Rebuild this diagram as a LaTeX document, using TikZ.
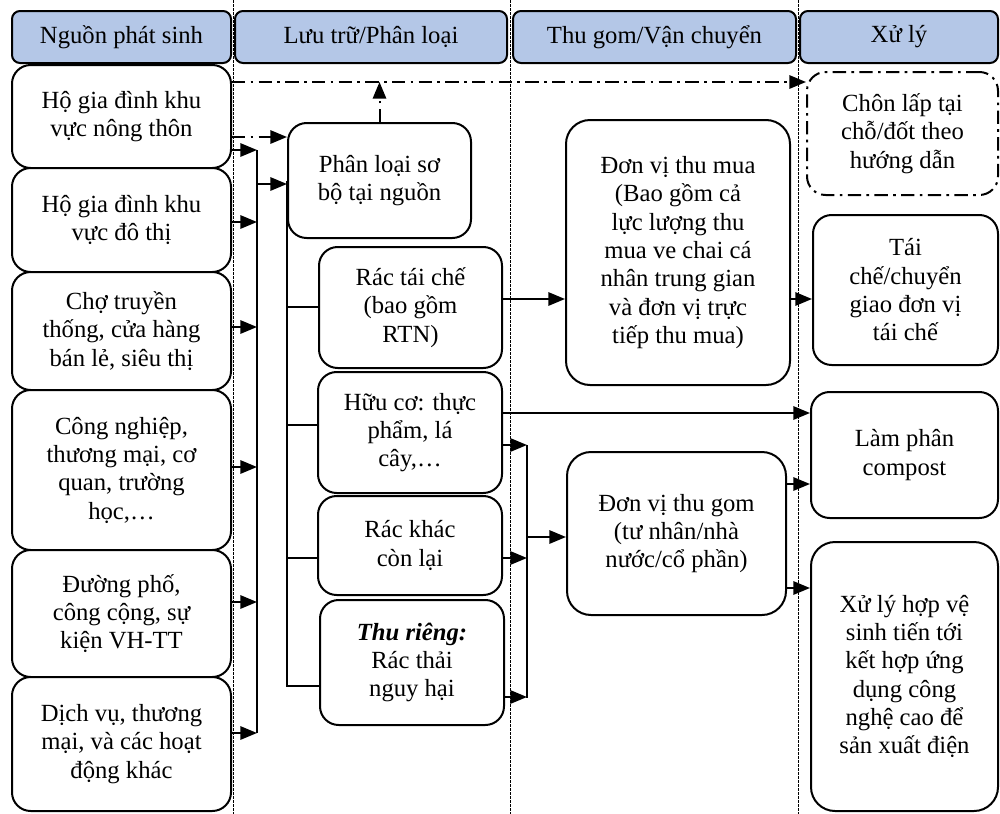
\documentclass[tikz,border=0pt]{standalone}
\usepackage{fontspec}
\setmainfont{Liberation Serif}
\usetikzlibrary{arrows.meta}
\definecolor{hdr}{HTML}{B4C7E7}
\newcommand\fs{\fontsize{18.5}{21.25}\selectfont}
\newcommand\mybox[7][]{\node[box,#1,minimum width={(#5-#3)*0.75pt},minimum height={(#6-#4)*0.75pt}] (#2) at ({(#3+#5)/2},{(#4+#6)/2}) {#7};}
\tikzset{
 box/.style={draw, line width=1.5pt, rounded corners=14pt, align=center, font=\fs, inner sep=2pt},
 hdrbox/.style={box, fill=hdr, rounded corners=6pt},
 arr/.style={line width=1.5pt, -{Triangle[length=12.5pt,width=10pt]}},
 ddash/.style={dash pattern=on 10pt off 4pt on 2pt off 4pt},
 sepline/.style={line width=0.5pt, dash pattern=on 2pt off 1pt},
 wire/.style={line width=1.1pt},
}
\begin{document}
\begin{tikzpicture}[x=0.75pt,y=-0.75pt]
\useasboundingbox (0,0) rectangle (1000,814);
% column separators
\foreach \xx/\nm in {233/sA,510/sB,798/sC}{
  \coordinate (\nm t) at (\xx,0);
  \coordinate (\nm b) at (\xx,814);
  \draw[sepline] (\nm t) -- (\nm b);
}
% headers
\mybox[hdrbox]{h1}{12}{11}{231}{63}{Nguồn phát sinh}
\mybox[hdrbox]{h2}{235}{11}{507}{63}{Lưu trữ/Phân loại}
\mybox[hdrbox]{h3}{513}{11}{796}{63}{Thu gom/Vận chuyển}
\mybox[hdrbox]{h4}{800}{11}{998}{63}{Xử lý}
% sources
\mybox[fill=white]{b1}{12}{65}{231}{168}{Hộ gia đình khu\\vực nông thôn}
\mybox[fill=white]{b2}{12}{168}{231}{272}{Hộ gia đình khu\\vực đô thị}
\mybox[fill=white]{b3}{12}{272}{231}{390}{Chợ truyền\\thống, cửa hàng\\bán lẻ, siêu thị}
\mybox[fill=white]{b4}{12}{390}{231}{550}{Công nghiệp,\\thương mại, cơ\\quan, trường\\học,…}
\mybox[fill=white]{b5}{12}{550}{231}{677}{Đường phố,\\công cộng, sự\\kiện VH-TT}
\mybox[fill=white]{b6}{12}{677}{231}{811}{Dịch vụ, thương\\mại, và các hoạt\\động khác}
% storage / sorting
\mybox{pl}{288}{123}{471}{238}{Phân loại sơ\\bộ tại nguồn}
\mybox{rt}{319}{247}{502}{368}{Rác tái chế\\(bao gồm\\RTN)}
\mybox{hc}{318}{372}{502}{493}{Hữu cơ: thực\\phẩm, lá\\cây,…}
\mybox{rk}{318}{496}{502}{595}{Rác khác\\còn lại}
\mybox{tr}{320}{600}{504}{725}{\textbf{\textit{Thu riêng:}}\\Rác thải\\nguy hại}
% collection
\mybox[rounded corners=18pt]{tm}{566}{120}{790}{385}{Đơn vị thu mua\\(Bao gồm cả\\lực lượng thu\\mua ve chai cá\\nhân trung gian\\và đơn vị trực\\tiếp thu mua)}
\mybox[rounded corners=18pt]{tg}{567}{452}{786}{615}{Đơn vị thu gom\\(tư nhân/nhà\\nước/cổ phần)}
% treatment
\mybox[ddash]{cl}{807}{72}{998}{195}{Chôn lấp tại\\chỗ/đốt theo\\hướng dẫn}
\mybox{tc}{813}{215}{998}{365}{Tái\\chế/chuyển\\giao đơn vị\\tái chế}
\mybox{lp}{811}{392}{998}{518}{Làm phân\\compost}
\mybox[rounded corners=18pt]{xl}{811}{542}{998}{811}{Xử lý hợp vệ\\sinh tiến tới\\kết hợp ứng\\dụng công\\nghệ cao để\\sản xuất điện}
% buses
\coordinate (bL) at (257,0);
\coordinate (bR) at (527,0);
% dash-dot connectors
\draw[arr,ddash] (b1.east |- 0,82) -- (cl.west |- 0,82);
\draw[arr,ddash] (pl.north) -- (pl.north |- 0,82);
\draw[arr,ddash] (b1.east |- 0,137) -- (pl.west |- 0,137);
% sources to left bus
\draw[wire] (bL |- 0,150) -- (bL |- 0,733);
\draw[arr] (b1.east |- 0,150) -- (bL |- 0,150);
\draw[arr] (b2.east |- 0,222) -- (bL |- 0,222);
\draw[arr] (b3.east |- 0,327) -- (bL |- 0,327);
\draw[arr] (b4.east |- 0,467) -- (bL |- 0,467);
\draw[arr] (b5.east |- 0,602) -- (bL |- 0,602);
\draw[arr] (b6.east |- 0,733) -- (bL |- 0,733);
\draw[arr] (bL |- 0,184) -- (pl.west |- 0,184);
% sorting tree
\draw[wire] (pl.west) -- (pl.west |- 0,686) -- (tr.west |- 0,686);
\draw[wire] (pl.west |- 0,307) -- (rt.west |- 0,307);
\draw[wire] (pl.west |- 0,425) -- (hc.west |- 0,425);
\draw[wire] (pl.west |- 0,558) -- (rk.west |- 0,558);
% right bus
\draw[wire] (bR |- 0,445) -- (bR |- 0,698);
\draw[arr] (hc.east |- 0,445) -- (bR |- 0,445);
\draw[arr] (rk.east |- 0,558) -- (bR |- 0,558);
\draw[arr] (tr.east |- 0,697) -- (bR |- 0,697);
\draw[arr] (bR |- 0,537) -- (tg.west |- 0,537);
% other flows
\draw[arr] (rt.east |- 0,299) -- (tm.west |- 0,299);
\draw[arr] (tm.east |- 0,299) -- (tc.west |- 0,299);
\draw[arr] (hc.east |- 0,413) -- (lp.west |- 0,413);
\draw[arr] (tg.east |- 0,484) -- (lp.west |- 0,484);
\draw[arr] (tg.east |- 0,588) -- (xl.west |- 0,588);
\end{tikzpicture}
\end{document}
